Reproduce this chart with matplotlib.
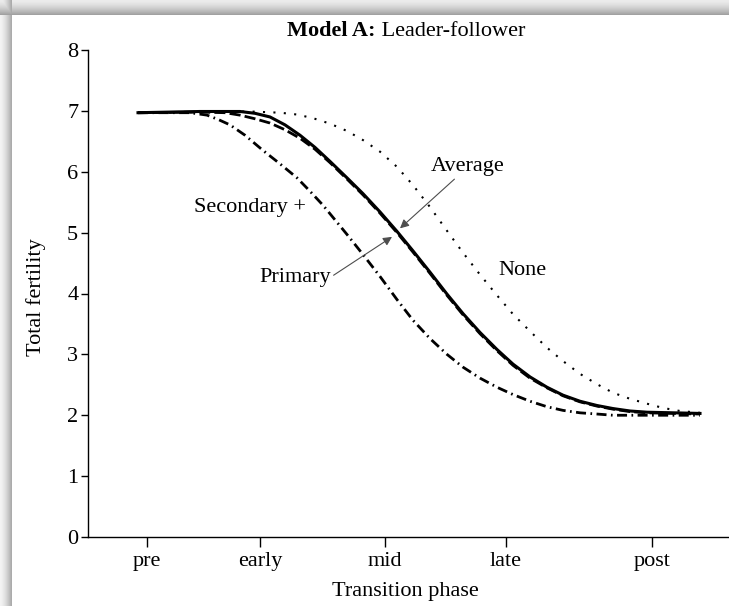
import numpy as np
import matplotlib
matplotlib.use("Agg")
import matplotlib.pyplot as plt

plt.rcParams['font.family'] = ['Liberation Serif', 'DejaVu Serif']

# phase axis in arbitrary units (0..641 across the plot), ticks at named phases
phase_labels = ["pre", "early", "mid", "late", "post"]
phase_pos = [59, 172, 297, 418, 564]

# Average (solid)
avg_x = [50, 112, 152, 167, 182, 197, 212, 227, 242, 259, 275, 292, 309, 325,
         342, 359, 375, 392, 409, 425, 442, 459, 475, 492, 509, 525, 542, 559, 612]
avg_y = [6.97, 6.99, 6.99, 6.96, 6.90, 6.77, 6.60, 6.40, 6.17, 5.90, 5.64, 5.34,
         5.02, 4.70, 4.35, 3.99, 3.67, 3.36, 3.08, 2.84, 2.63, 2.46, 2.33, 2.23,
         2.16, 2.11, 2.07, 2.05, 2.03]

# Primary (dashed)
pri_x = [50, 112, 137, 152, 167, 182, 197, 212, 227, 242, 259, 275, 292, 309,
         325, 342, 359, 375, 392, 409, 425, 442, 459, 475, 492, 509, 525, 542, 559, 612]
pri_y = [6.97, 6.98, 6.97, 6.93, 6.87, 6.80, 6.69, 6.55, 6.37, 6.15, 5.88, 5.62,
         5.32, 5.00, 4.68, 4.33, 3.97, 3.65, 3.34, 3.06, 2.82, 2.61, 2.45, 2.32,
         2.22, 2.15, 2.10, 2.06, 2.04, 2.02]

# None (dotted)
non_x = [50, 162, 192, 209, 225, 242, 259, 275, 292, 309, 325, 342, 359, 375,
         392, 409, 425, 442, 459, 475, 492, 509, 525, 542, 559, 575, 592, 612]
non_y = [6.97, 6.99, 6.97, 6.94, 6.88, 6.79, 6.67, 6.52, 6.33, 6.08, 5.78, 5.42,
         5.03, 4.67, 4.31, 3.97, 3.66, 3.38, 3.11, 2.89, 2.68, 2.51, 2.37, 2.27,
         2.19, 2.12, 2.07, 2.04]

# Secondary + (dash-dot)
sec_x = [50, 102, 119, 130, 142, 157, 175, 192, 209, 222, 235, 247, 259, 275,
         292, 309, 325, 342, 359, 375, 392, 409, 425, 442, 459, 475, 492, 509,
         525, 562, 612]
sec_y = [6.97, 6.97, 6.93, 6.86, 6.77, 6.60, 6.35, 6.13, 5.90, 5.68, 5.45, 5.21,
         4.97, 4.64, 4.28, 3.90, 3.56, 3.26, 3.00, 2.79, 2.61, 2.46, 2.34, 2.23,
         2.14, 2.08, 2.04, 2.02, 2.00, 2.00, 2.00]

W, H = 729, 606
fig = plt.figure(figsize=(W / 100, H / 100), dpi=100)

# screenshot shadow along top and left edge
bg = fig.add_axes([0, 0, 1, 1], zorder=-10)
img = np.ones((H, W))
top = 15
left = 12
for i in range(top):
    img[i, :] = 0.92 - 0.32 * (i / top) ** 1.5
for j in range(left):
    col = 0.95 - 0.32 * (j / left) ** 1.5
    img[top:, j] = np.minimum(img[top:, j], col)
    img[:top, j] = np.minimum(img[:top, j], col)
bg.imshow(img, cmap='gray', vmin=0, vmax=1, aspect='auto', interpolation='bilinear')
bg.axis('off')

ax = fig.add_axes([88 / W, (H - 537) / H, 1 - 88 / W, (537 - 50) / H])
ax.patch.set_alpha(0)

ax.plot(non_x, non_y, color='black', lw=1.5, linestyle=(0, (1, 4)))
ax.plot(sec_x, sec_y, color='black', lw=2, linestyle=(0, (3.6, 1.6, 0.6, 1.6)))
ax.plot(pri_x, pri_y, color='black', lw=2, linestyle=(0, (4, 1.5)))
ax.plot(avg_x, avg_y, color='black', lw=2.2)

ax.set_xlim(0, 641)
ax.set_ylim(0, 8)
ax.set_xticks(phase_pos)
ax.set_xticklabels(phase_labels)
ax.set_yticks(range(0, 9))
ax.spines['top'].set_visible(False)
ax.spines['right'].set_visible(False)
for s in ['left', 'bottom']:
    ax.spines[s].set_linewidth(1.0)
ax.tick_params(axis='y', length=5, width=1, labelsize=16, pad=2)
ax.tick_params(axis='x', length=7, width=1, labelsize=16, pad=4)

ax.set_xlabel("Transition phase", fontsize=16)
ax.xaxis.set_label_coords(0.495, -0.093)
ax.set_ylabel("Total fertility", fontsize=16)
ax.yaxis.set_label_coords(-0.066, 0.493)

arrow = dict(arrowstyle='-|>', lw=0.8, color='0.3', mutation_scale=13,
             shrinkA=0, shrinkB=0)
ax.annotate("Average", xy=(312, 5.07), xytext=(380, 6.08), fontsize=16,
            ha='center', va='center', arrowprops=arrow)
ax.annotate("Primary", xy=(304, 4.93), xytext=(207, 4.27), fontsize=16,
            ha='center', va='center', arrowprops=dict(arrow, relpos=(1, 0.5)))
ax.text(162, 5.42, "Secondary +", fontsize=16, ha='center', va='center')
ax.text(434, 4.38, "None", fontsize=16, ha='center', va='center')

fig.text(376 / W, (H - 31) / H, "Model A:", fontsize=16, fontweight='bold',
         ha='right', va='center')
fig.text(376 / W, (H - 31) / H, " Leader-follower", fontsize=16,
         ha='left', va='center')

fig.savefig("out.png", dpi=100)
